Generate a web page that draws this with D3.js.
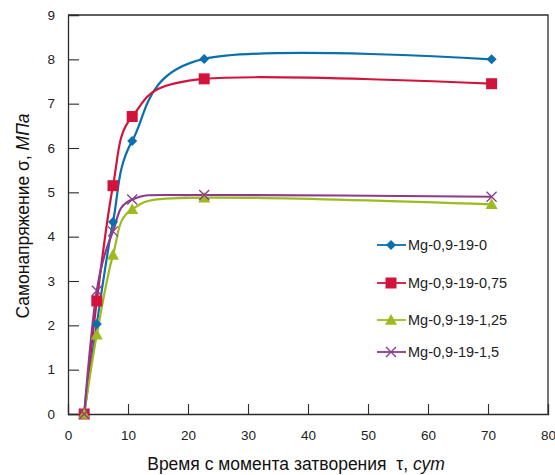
<!DOCTYPE html>
<html>
<head>
<meta charset="utf-8">
<script src="https://cdn.jsdelivr.net/npm/d3@7"></script>
<style>
  html, body { margin: 0; padding: 0; background: #fff; }
  svg { display: block; font-family: "Liberation Sans", Arial, sans-serif; }
</style>
</head>
<body>
<svg id="chart" width="555" height="475"></svg>
<script>
// Time since mixing, days
const days = [2.7, 4.8, 7.5, 10.7, 22.7, 70.6];

// Self-stress, MPa, per composition
const seriesNames = ["Mg-0,9-19-0", "Mg-0,9-19-0,75", "Mg-0,9-19-1,25", "Mg-0,9-19-1,5"];
const stressMg0    = [0, 2.03, 4.33, 6.16, 8.01, 8.0];
const stressMg075  = [0, 2.55, 5.15, 6.71, 7.56, 7.45];
const stressMg125  = [0, 1.79, 3.59, 4.62, 4.88, 4.73];
const stressMg15   = [0, 2.78, 4.12, 4.84, 4.94, 4.9];

const xTicks = [0, 10, 20, 30, 40, 50, 60, 70, 80];
const yTicks = [0, 1, 2, 3, 4, 5, 6, 7, 8, 9];

const colors = ["#0a6fae", "#d2143c", "#9dbb1e", "#8c3a8c"];
const markers = ["diamond", "square", "triangle", "cross"];
const seriesValues = [stressMg0, stressMg075, stressMg125, stressMg15];

const svg = d3.select("#chart");
const m = { left: 68, right: 548, top: 15, bottom: 414 };

const x = d3.scaleLinear().domain([0, 80]).range([m.left, m.right]);
const y = d3.scaleLinear().domain([0, 9]).range([m.bottom, m.top]);

const axisColor = "#2b2b2b";

// Frame: top and right edges
svg.append("path")
  .attr("d", `M${m.left},${m.top}H${m.right}V${m.bottom}`)
  .attr("fill", "none").attr("stroke", axisColor).attr("stroke-width", 1.3);

// Axes with inward ticks
const xAxis = svg.append("g").attr("transform", `translate(0,${m.bottom})`)
  .call(d3.axisBottom(x).tickValues(xTicks).tickSize(-10).tickPadding(16).tickFormat(d3.format("d")));
const yAxis = svg.append("g").attr("transform", `translate(${m.left},0)`)
  .call(d3.axisLeft(y).tickValues(yTicks).tickSize(-11).tickPadding(13).tickFormat(d3.format("d")));

[xAxis, yAxis].forEach(g => {
  g.select(".domain").attr("stroke", axisColor).attr("stroke-width", 1.3);
  g.selectAll(".tick line").attr("stroke", axisColor).attr("stroke-width", 1.1);
  g.selectAll(".tick text").attr("fill", "#222").style("font-size", "13.5px")
    .style("font-family", "'Liberation Sans', Arial, sans-serif");
});
xAxis.selectAll(".tick").filter(d => d === 0 || d === 80).select("line").remove();
yAxis.selectAll(".tick").filter(d => d === 0 || d === 9).select("line").remove();

// Smoothed series lines
const line = d3.line()
  .x((d, i) => x(days[i]))
  .y(d => y(d))
  .curve(d3.curveCardinal.tension(0));

function drawMarker(g, type, cx, cy, color) {
  if (type === "diamond") {
    const s = 5;
    g.append("path").attr("d", `M${cx},${cy - s}L${cx + s},${cy}L${cx},${cy + s}L${cx - s},${cy}Z`)
      .attr("fill", color);
  } else if (type === "square") {
    const s = 5.5;
    g.append("rect").attr("x", cx - s).attr("y", cy - s).attr("width", 2 * s).attr("height", 2 * s)
      .attr("fill", color);
  } else if (type === "triangle") {
    const s = 6;
    g.append("path").attr("d", `M${cx},${cy - s}L${cx + s},${cy + s * 0.8}L${cx - s},${cy + s * 0.8}Z`)
      .attr("fill", color);
  } else {
    const s = 5;
    g.append("path").attr("d", `M${cx - s},${cy - s}L${cx + s},${cy + s}M${cx + s},${cy - s}L${cx - s},${cy + s}`)
      .attr("stroke", color).attr("stroke-width", 1.3).attr("fill", "none");
  }
}

const plot = svg.append("g");
seriesValues.forEach((vals, k) => {
  plot.append("path").datum(vals)
    .attr("d", line)
    .attr("fill", "none")
    .attr("stroke", colors[k])
    .attr("stroke-width", 2.2);
});
seriesValues.forEach((vals, k) => {
  const g = plot.append("g");
  vals.forEach((v, i) => drawMarker(g, markers[k], x(days[i]), y(v), colors[k]));
});

// Legend
const legend = svg.append("g");
const legendY = [245, 283, 320, 352];
seriesNames.forEach((name, k) => {
  const ly = legendY[k];
  legend.append("line").attr("x1", 377).attr("x2", 406).attr("y1", ly).attr("y2", ly)
    .attr("stroke", colors[k]).attr("stroke-width", 1.8);
  drawMarker(legend, markers[k], 391, ly, colors[k]);
  legend.append("text").attr("x", 408).attr("y", ly + 5)
    .attr("fill", "#222").style("font-size", "14.5px").text(name);
});

// Axis titles
const yt = svg.append("text")
  .attr("transform", "translate(29,216) rotate(-90)")
  .attr("text-anchor", "middle")
  .attr("fill", "#111").style("font-size", "17.5px");
yt.append("tspan").text("Самонапряжение σ, ");
yt.append("tspan").style("font-style", "italic").text("МПа");

const xt = svg.append("text")
  .attr("x", 296).attr("y", 470)
  .attr("text-anchor", "middle")
  .attr("fill", "#111").style("font-size", "17.5px")
  .attr("xml:space", "preserve");
xt.append("tspan").text("Время с момента затворения  τ, ");
xt.append("tspan").style("font-style", "italic").text("сут");
</script>
</body>
</html>
